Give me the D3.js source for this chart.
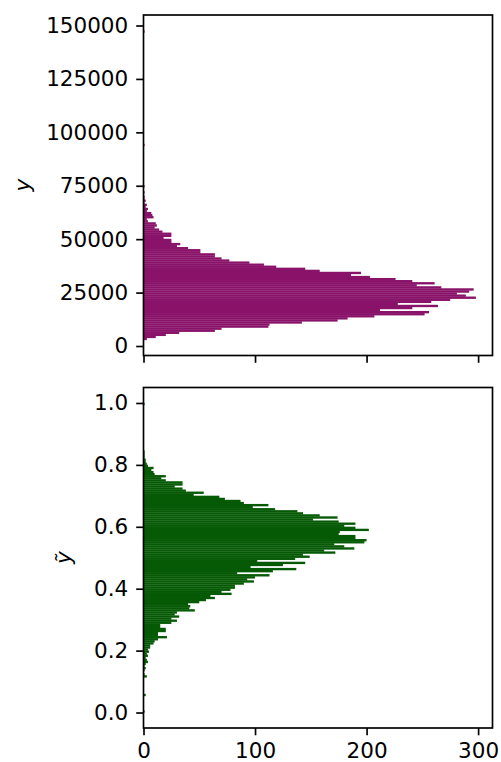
<!DOCTYPE html>
<html>
<head>
<meta charset="utf-8">
<script src="https://cdn.jsdelivr.net/npm/d3@7"></script>
<style>
  body { margin: 0; background: white; }
  text { font-family: "DejaVu Sans", sans-serif; }
</style>
</head>
<body>
<div id="hist"></div>
<script>
// raw values: histogram of y (top) and of the normalised y~ (bottom), 150 bins each
var topRange = [2798, 147671];
var topCounts = [
  3, 11, 20, 32, 64, 70, 112, 113, 142, 174,
  183, 207, 252, 256, 212, 241, 264, 228, 258, 275,
  298, 289, 281, 292, 296, 267, 245, 261, 241, 226,
  203, 186, 195, 158, 145, 119, 108, 95, 77, 70,
  64, 64, 51, 51, 40, 30, 33, 25, 25, 18,
  25, 25, 17, 14, 10, 12, 11, 4, 3, 9,
  8, 7, 3, 4, 2, 3, 1, 2, 1, 1,
  0, 1, 0, 0, 1, 0, 0, 0, 0, 0,
  0, 0, 0, 0, 0, 0, 0, 0, 0, 0,
  0, 0, 0, 0, 1, 0, 0, 0, 0, 0,
  0, 0, 0, 0, 0, 0, 0, 0, 0, 0,
  0, 0, 0, 0, 0, 0, 0, 0, 0, 0,
  0, 0, 0, 0, 0, 0, 0, 0, 0, 0,
  0, 0, 0, 0, 0, 0, 0, 0, 0, 0,
  0, 0, 0, 0, 0, 0, 0, 0, 0, 1
];
var bottomRange = [0, 1];
var bottomCounts = [
  1, 0, 0, 0, 0, 0, 0, 0, 2, 0,
  0, 0, 0, 0, 0, 0, 0, 3, 1, 0,
  1, 2, 1, 2, 4, 3, 2, 4, 3, 5,
  4, 6, 6, 9, 10, 13, 21, 13, 13, 20,
  20, 15, 15, 25, 30, 25, 32, 28, 30, 46,
  41, 42, 40, 50, 56, 64, 60, 79, 70, 78,
  82, 82, 90, 99, 93, 100, 113, 84, 116, 137,
  96, 125, 145, 102, 136, 149, 143, 172, 162, 189,
  180, 171, 198, 200, 190, 190, 175, 176, 202, 190,
  180, 190, 175, 152, 174, 158, 143, 138, 118, 98,
  112, 90, 87, 73, 68, 45, 54, 38, 35, 28,
  35, 35, 20, 16, 20, 10, 9, 7, 9, 4,
  3, 2, 2, 1, 1, 1, 1, 0, 0, 0,
  0, 0, 0, 0, 0, 0, 0, 0, 0, 0,
  0, 0, 0, 0, 0, 0, 0, 0, 0, 1
];
var topTicks = [0, 25000, 50000, 75000, 100000, 125000, 150000];
var bottomTicks = [0.0, 0.2, 0.4, 0.6, 0.8, 1.0];
var countTicks = [0, 100, 200, 300];

var W = 501, H = 762;
var left = 143.5, plotW = 349;
var panels = [
  {top: 15, h: 340.5, range: topRange, counts: topCounts, ticks: topTicks, fmt: d3.format("d"),
   color: "#8a136a", label: "y", labelX: 22},
  {top: 387.5, h: 340.5, range: bottomRange, counts: bottomCounts, ticks: bottomTicks, fmt: d3.format(".1f"),
   color: "#065a06", label: "\u1ef9", labelX: 63}
];

var svg = d3.select("#hist").append("svg")
  .attr("width", W).attr("height", H);

// shared count axis, matplotlib style 5% margin on top
var xmax = d3.max(topCounts.concat(bottomCounts)) * 1.05;
var x = d3.scaleLinear().domain([0, xmax]).range([0, plotW]);

panels.forEach(function(p, k) {
  var n = p.counts.length;
  var bw = (p.range[1] - p.range[0]) / n;
  var pad = (p.range[1] - p.range[0]) * 0.05;
  var y = d3.scaleLinear()
    .domain([p.range[0] - pad, p.range[1] + pad])
    .range([p.h, 0]);

  var g = svg.append("g")
    .attr("transform", "translate(" + left + "," + p.top + ")");

  var bins = p.counts.map(function(c, i) {
    return {lo: p.range[0] + i * bw, hi: p.range[0] + (i + 1) * bw, c: c};
  }).filter(function(d) { return d.c > 0; });

  // small overlap so the seams between bins stay faint
  g.append("g").selectAll("rect")
    .data(bins)
    .enter()
    .append("rect")
      .attr("x", x(0))
      .attr("y", function(d) { return y(d.hi) - 0.15; })
      .attr("height", function(d) { return y(d.lo) - y(d.hi) + 0.3; })
      .attr("width", function(d) { return x(d.c) - x(0); })
      .attr("fill", p.color);

  // y axis
  var ya = g.append("g")
    .call(d3.axisLeft(y).tickValues(p.ticks).tickFormat(p.fmt).tickSize(7.3).tickPadding(8));
  ya.select(".domain").remove();

  // x axis (labels only on the bottom panel)
  var xa = g.append("g")
    .attr("transform", "translate(0," + p.h + ")")
    .call(d3.axisBottom(x).tickValues(countTicks).tickSize(7.3).tickPadding(7));
  xa.select(".domain").remove();
  if (k == 0) xa.selectAll("text").remove();

  svg.selectAll(".tick line").attr("stroke", "black").attr("stroke-width", 1.67);
  svg.selectAll(".tick text").attr("font-size", 21.5).attr("fill", "black")
    .attr("font-family", "DejaVu Sans");

  // frame
  g.append("rect")
    .attr("x", 0).attr("y", 0)
    .attr("width", plotW).attr("height", p.h)
    .attr("fill", "none")
    .attr("stroke", "black")
    .attr("stroke-width", 1.67);

  // axis label
  svg.append("text")
    .attr("transform", "translate(" + p.labelX + "," + (p.top + p.h / 2) + ") rotate(-90)")
    .attr("text-anchor", "middle")
    .attr("dy", "0.35em")
    .attr("font-size", 21.5)
    .attr("font-style", "italic")
    .text(p.label);
});
</script>
</body>
</html>
